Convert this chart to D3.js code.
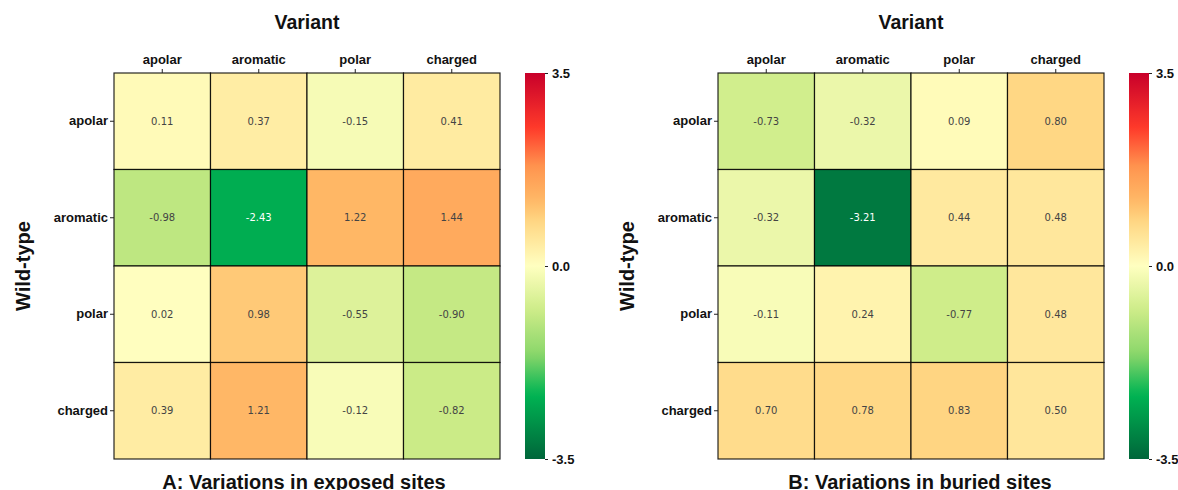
<!DOCTYPE html>
<html><head><meta charset="utf-8">
<script src="https://cdn.jsdelivr.net/npm/d3@7"></script>
<style>body{margin:0;background:#fff}svg{display:block}</style>
</head><body>
<svg id="chart" width="1178" height="490"></svg>
<script>
const categories = ["apolar", "aromatic", "polar", "charged"];
const exposedValues = [
  [0.11, 0.37, -0.15, 0.41],
  [-0.98, -2.43, 1.22, 1.44],
  [0.02, 0.98, -0.55, -0.90],
  [0.39, 1.21, -0.12, -0.82]
];
const buriedValues = [
  [-0.73, -0.32, 0.09, 0.80],
  [-0.32, -3.21, 0.44, 0.48],
  [-0.11, 0.24, -0.77, 0.48],
  [0.70, 0.78, 0.83, 0.50]
];
const colorTicks = [3.5, 0.0, -3.5];
const colorStops = [-3.5, -2.33, -1.6, -0.8, 0, 0.8, 1.2, 1.8, 2.5, 3.5];
const colorRange = ["#00663a", "#00b453", "#8ad66a", "#cdec88", "#ffffc0", "#ffd784", "#ffb866", "#ff954f", "#ff3a2a", "#c8002a"];
const panels = [
  {title: "A: Variations in exposed sites", values: exposedValues, x0: 114, titleX: 304},
  {title: "B: Variations in buried sites", values: buriedValues, x0: 718, titleX: 920}
];

const svg = d3.select("#chart");
const color = d3.scaleLinear().domain(colorStops).range(colorRange).interpolate(d3.interpolateRgb).clamp(true);
const gridSize = 386, gridTop = 73;
const labelFont = "Liberation Sans, Arial, sans-serif";
const fmt2 = v => d3.format(".2f")(v).replace("\u2212", "-");
const fmt1 = v => d3.format(".1f")(v).replace("\u2212", "-");

// gradient
const grad = svg.append("defs").append("linearGradient").attr("id", "cbar")
  .attr("x1", 0).attr("y1", 1).attr("x2", 0).attr("y2", 0);
d3.range(0, 1.0001, 0.02).forEach(t => {
  grad.append("stop").attr("offset", t).attr("stop-color", color(-3.5 + 7 * t));
});

panels.forEach(p => {
  const g = svg.append("g");
  const x = d3.scaleBand().domain(categories).range([p.x0, p.x0 + gridSize]);
  const y = d3.scaleBand().domain(categories).range([gridTop, gridTop + gridSize]);
  const cells = [];
  p.values.forEach((row, i) => row.forEach((v, j) => cells.push({r: categories[i], c: categories[j], v})));

  g.selectAll("rect.cell").data(cells).join("rect")
    .attr("x", d => x(d.c)).attr("y", d => y(d.r))
    .attr("width", x.bandwidth()).attr("height", y.bandwidth())
    .attr("fill", d => color(d.v))
    .attr("stroke", "rgba(0,0,0,0.85)").attr("stroke-width", 1.2);

  g.selectAll("text.val").data(cells).join("text")
    .attr("x", d => x(d.c) + x.bandwidth() / 2)
    .attr("y", d => y(d.r) + y.bandwidth() / 2)
    .attr("text-anchor", "middle").attr("dominant-baseline", "central")
    .attr("font-family", "DejaVu Sans, sans-serif").attr("font-size", 10)
    .attr("fill", d => {
      const c = d3.rgb(color(d.v));
      const lum = (0.299 * c.r + 0.587 * c.g + 0.114 * c.b) / 255;
      return lum < 0.45 ? "#ffffff" : "#444444";
    })
    .text(d => fmt2(d.v));

  const xAxis = g.append("g").attr("transform", `translate(0,${gridTop})`)
    .call(d3.axisTop(x).tickSize(4).tickPadding(5));
  const yAxis = g.append("g").attr("transform", `translate(${p.x0},0)`)
    .call(d3.axisLeft(y).tickSize(4).tickPadding(2));
  [xAxis, yAxis].forEach(a => {
    a.select(".domain").remove();
    a.selectAll("text").attr("font-family", labelFont).attr("font-weight", "bold").attr("font-size", 13).attr("fill", "#111");
    a.selectAll("line").attr("stroke", "#222");
  });

  g.append("text").attr("x", p.x0 + gridSize / 2).attr("y", 29)
    .attr("text-anchor", "middle").attr("font-family", labelFont).attr("font-weight", "bold")
    .attr("font-size", 19.5).attr("fill", "#111").text("Variant");
  g.append("text").attr("transform", `translate(${p.x0 - 84},${gridTop + gridSize / 2}) rotate(-90)`)
    .attr("text-anchor", "middle").attr("font-family", labelFont).attr("font-weight", "bold")
    .attr("font-size", 20).attr("fill", "#111").text("Wild-type");
  g.append("text").attr("x", p.titleX).attr("y", 488.5)
    .attr("text-anchor", "middle").attr("font-family", labelFont).attr("font-weight", "bold")
    .attr("font-size", 20).attr("fill", "#111").text(p.title);

  // colorbar
  const cx = p.x0 + gridSize + 25;
  g.append("rect").attr("x", cx).attr("y", gridTop).attr("width", 20).attr("height", gridSize)
    .attr("fill", "url(#cbar)");
  const cy = d3.scaleLinear().domain([-3.5, 3.5]).range([gridTop + gridSize, gridTop]);
  const cAxis = g.append("g").attr("transform", `translate(${cx + 20},0)`)
    .call(d3.axisRight(cy).tickValues(colorTicks).tickFormat(fmt1).tickSize(3).tickPadding(4));
  cAxis.select(".domain").remove();
  cAxis.selectAll("text").attr("font-family", labelFont).attr("font-weight", "bold").attr("font-size", 13).attr("fill", "#111");
  cAxis.selectAll("line").attr("stroke", "#222");
});
</script>
</body></html>
